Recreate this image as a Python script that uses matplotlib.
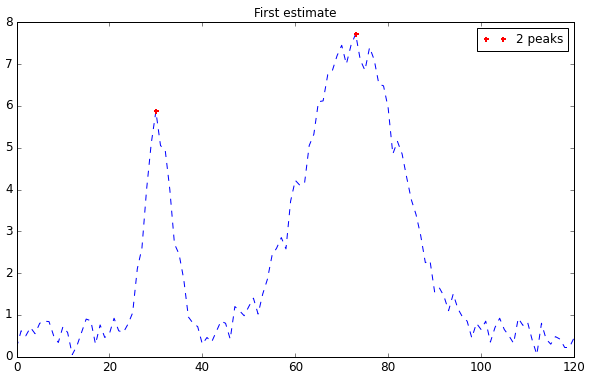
import matplotlib

matplotlib.use("Agg")
import matplotlib.pyplot as plt

# signal sampled at x = 0..120
x_vals = list(range(121))
y_vals = [
    0.22, 0.62, 0.50, 0.70, 0.55, 0.80, 0.85, 0.84, 0.50, 0.34,
    0.72, 0.58, 0.05, 0.26, 0.58, 0.90, 0.86, 0.30, 0.76, 0.46,
    0.55, 0.92, 0.62, 0.58, 0.78, 1.05, 2.10, 2.60, 4.00, 5.10,
    5.87, 5.05, 4.95, 4.00, 2.70, 2.45, 1.85, 0.95, 0.80, 0.72,
    0.30, 0.46, 0.35, 0.60, 0.85, 0.80, 0.42, 1.20, 1.10, 0.98,
    1.20, 1.40, 1.02, 1.50, 1.85, 2.42, 2.60, 2.85, 2.58, 3.72,
    4.22, 4.10, 4.15, 5.05, 5.32, 6.10, 6.12, 6.75, 6.85, 7.20,
    7.45, 7.00, 7.45, 7.72, 7.10, 6.85, 7.40, 7.10, 6.52, 6.48,
    5.95, 4.85, 5.15, 4.85, 4.28, 3.75, 3.40, 2.90, 2.25, 2.30,
    1.55, 1.65, 1.45, 1.10, 1.50, 1.15, 0.95, 0.85, 0.45, 0.80,
    0.65, 0.85, 0.35, 0.70, 0.92, 0.65, 0.50, 0.32, 0.92, 0.75,
    0.83, 0.40, 0.05, 0.80, 0.42, 0.30, 0.48, 0.42, 0.22, 0.22,
    0.45,
]

peak_x = [30, 73]
peak_y = [5.87, 7.72]

plt.style.use("classic")
plt.rcParams["figure.facecolor"] = "white"
plt.rcParams["savefig.facecolor"] = "white"

fig = plt.figure(figsize=(590 / 72, 378 / 72), dpi=72)
ax = fig.add_axes([16.5 / 590, 21.3 / 378, 557.5 / 590, 334.4 / 378])

ax.plot(x_vals, y_vals, "b--", linewidth=1.0)
ax.plot(peak_x, peak_y, "r+", markersize=5, markeredgewidth=2,
        label=f"{len(peak_x)} peaks")

ax.set_xlim(0, 120)
ax.set_ylim(0, 8)
ax.set_title("First estimate", fontsize=12)
ax.legend(loc="upper right", numpoints=2, fontsize=12)

fig.savefig("out.png", dpi=72)
